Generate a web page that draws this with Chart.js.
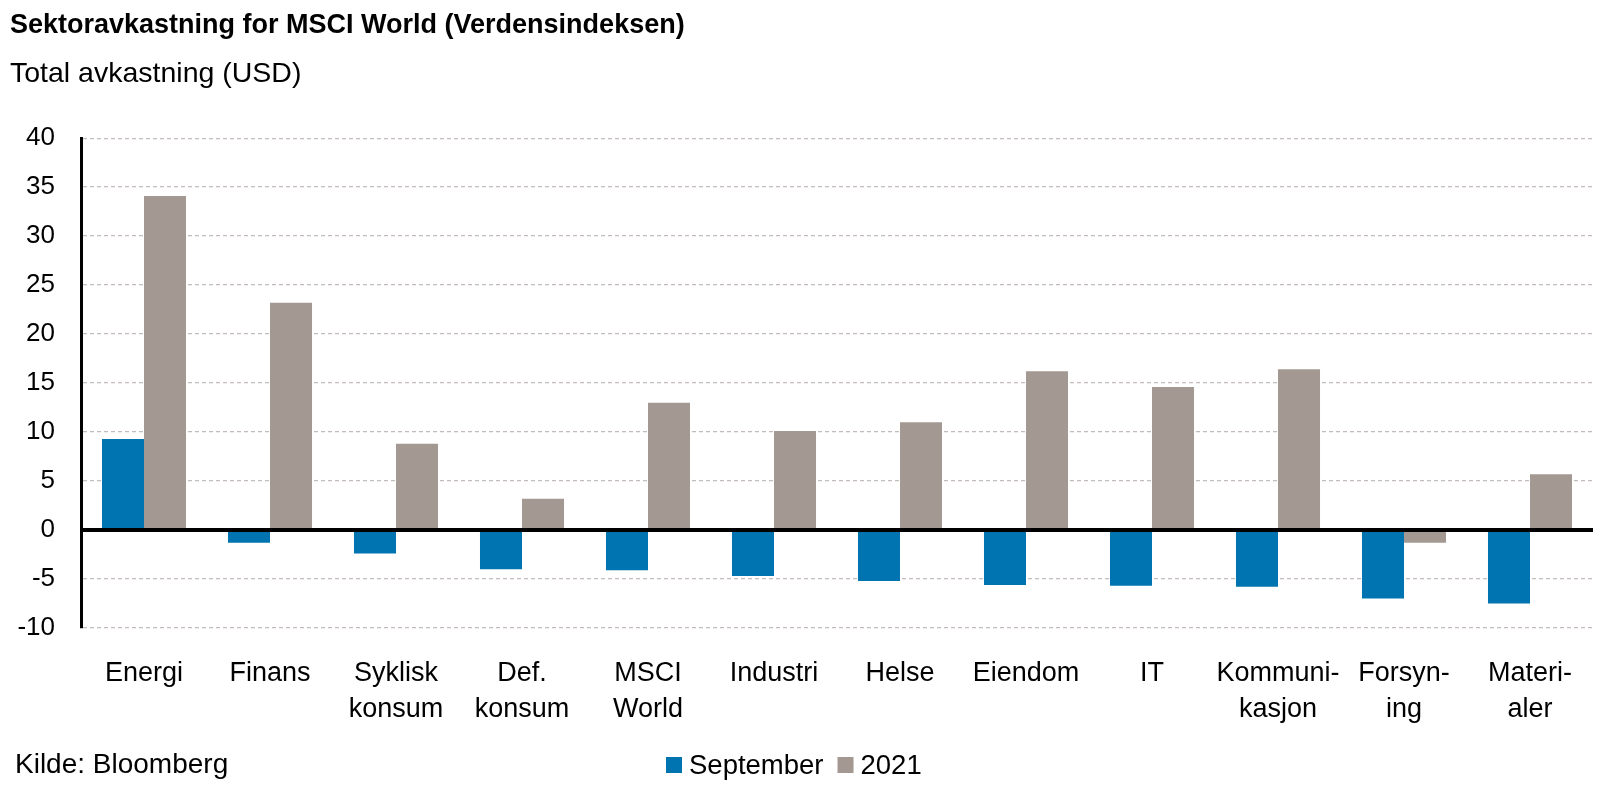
<!DOCTYPE html>
<html>
<head>
<meta charset="utf-8">
<script src="https://cdn.jsdelivr.net/npm/chart.js@4"></script>
<style>
  html, body { margin: 0; padding: 0; background: #ffffff; }
  #wrap { width: 1600px; height: 794px; }
</style>
</head>
<body>
<div id="wrap"><canvas id="c" width="1600" height="794"></canvas></div>
<script>
const titleText = 'Sektoravkastning for MSCI World (Verdensindeksen)';
const subtitleText = 'Total avkastning (USD)';
const sourceText = 'Kilde: Bloomberg';

const categories = [
  'Energi', 'Finans', ['Syklisk', 'konsum'], ['Def.', 'konsum'], ['MSCI', 'World'],
  'Industri', 'Helse', 'Eiendom', 'IT', ['Kommuni-', 'kasjon'], ['Forsyn-', 'ing'], ['Materi-', 'aler']
];
const seriesNames = ['September', '2021'];
const september = [9.3, -1.3, -2.4, -4.0, -4.1, -4.7, -5.2, -5.6, -5.7, -5.8, -7.0, -7.5];
const year2021 = [34.1, 23.2, 8.8, 3.2, 13.0, 10.1, 11.0, 16.2, 14.6, 16.4, -1.3, 5.7];
const yMin = -10, yMax = 40, yStep = 5;

const colors = ['#0074B1', '#A39892'];
const FONT = '"Liberation Sans", Arial, sans-serif';

const extrasPlugin = {
  id: 'extras',
  afterDraw(chart) {
    const ctx = chart.ctx;
    ctx.save();
    ctx.fillStyle = '#000';
    ctx.textBaseline = 'middle';
    ctx.textAlign = 'left';
    ctx.font = '28px ' + FONT;
    ctx.fillText(sourceText, 15, 765);
    // legend
    ctx.font = '27.5px ' + FONT;
    const box = 16, boxH = 16, gapText = 7, gapItem = 14;
    const widths = chart.data.datasets.map(d => ctx.measureText(d.label).width);
    let x = 666;
    chart.data.datasets.forEach((d, i) => {
      ctx.fillStyle = d.backgroundColor;
      ctx.fillRect(x, 757, box, boxH);
      ctx.fillStyle = '#000';
      ctx.fillText(d.label, x + box + gapText, 766);
      x += box + gapText + widths[i] + gapItem;
    });
    ctx.restore();
  }
};

new Chart(document.getElementById('c'), {
  type: 'bar',
  data: {
    labels: categories,
    datasets: [
      { label: seriesNames[0], data: september, backgroundColor: colors[0] },
      { label: seriesNames[1], data: year2021, backgroundColor: colors[1] }
    ]
  },
  options: {
    responsive: false,
    animation: false,
    devicePixelRatio: 1,
    layout: { padding: { left: 10, right: 7, top: 0, bottom: 0 } },
    datasets: { bar: { categoryPercentage: 0.667, barPercentage: 1.0, borderWidth: 0 } },
    plugins: {
      legend: { display: false },
      tooltip: { enabled: false },
      title: {
        display: true, text: titleText, align: 'start', color: '#000',
        font: { family: FONT, size: 27, weight: 'bold', lineHeight: 1.2 },
        padding: { top: 9, bottom: 7 }
      },
      subtitle: {
        display: true, text: subtitleText, align: 'start', color: '#000',
        font: { family: FONT, size: 28.5, weight: 'normal', lineHeight: 1.2 },
        padding: { top: 9, bottom: 46.5 }
      }
    },
    scales: {
      x: {
        grid: { display: false },
        border: { display: false },
        ticks: {
          color: '#000', padding: 20, maxRotation: 0, autoSkip: false,
          font: { family: FONT, size: 27, lineHeight: 1.333 }
        },
        afterFit(scale) { scale.height = 166; }
      },
      y: {
        min: yMin, max: yMax,
        ticks: {
          stepSize: yStep, color: '#000', padding: 26,
          font: { family: FONT, size: 26 }
        },
        grid: {
          drawTicks: false,
          color: c => (c.tick && c.tick.value === 0) ? '#000' : '#c3bcb8',
          lineWidth: c => (c.tick && c.tick.value === 0) ? 4 : 1.2
        },
        border: {
          display: true, color: '#000', width: 3,
          dash: c => (c.tick && c.tick.value === 0) ? [] : [4, 3]
        },
        afterFit(scale) { scale.width = 71; }
      }
    }
  },
  plugins: [extrasPlugin]
});
</script>
</body>
</html>
